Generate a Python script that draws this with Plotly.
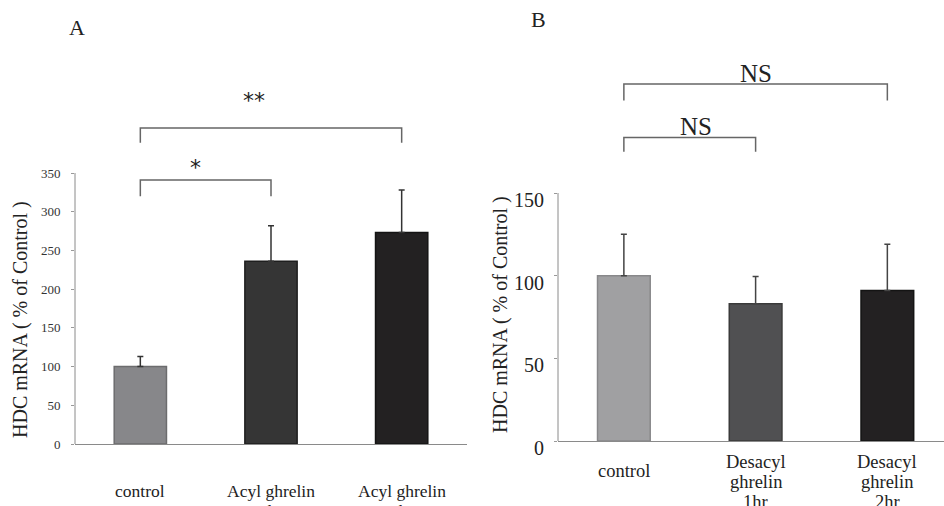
import plotly.graph_objects as go

# ---- data ----
cats_a = ["control", "Acyl ghrelin 1hr", "Acyl ghrelin 2hr"]
labels_a = [["control"], ["Acyl ghrelin", "1hr"], ["Acyl ghrelin", "2hr"]]
vals_a = [100, 236, 273]
err_a = [13, 46, 55]
colors_a = ["#87878a", "#353535", "#232122"]
lines_a = ["#6c6c6e", "#1e1e1e", "#141414"]
ticks_a = [0, 50, 100, 150, 200, 250, 300, 350]

cats_b = ["control", "Desacyl ghrelin 1hr", "Desacyl ghrelin 2hr"]
labels_b = [["control"], ["Desacyl", "ghrelin", "1hr"], ["Desacyl", "ghrelin", "2hr"]]
vals_b = [100, 83, 91]
err_b = [25, 16.5, 28]
colors_b = ["#a0a0a2", "#505052", "#232122"]
lines_b = ["#88888a", "#3a3a3a", "#141414"]
ticks_b = [0, 50, 100, 150]

FONT = "Liberation Serif, DejaVu Serif, serif"
W, H = 944, 506

def px(pix):
    return pix / W

def py(pix):
    return 1 - pix / H

fig = go.Figure()
fig.add_trace(go.Bar(
    x=cats_a, y=vals_a, xaxis="x", yaxis="y",
    marker=dict(color=colors_a, line=dict(color=lines_a, width=1.5)),
    error_y=dict(type="data", array=err_a, arrayminus=[0]*3, symmetric=False,
                 color="#333333", thickness=1.5, width=3),
    showlegend=False, hoverinfo="skip"))
fig.add_trace(go.Bar(
    x=cats_b, y=vals_b, xaxis="x2", yaxis="y2",
    marker=dict(color=colors_b, line=dict(color=lines_b, width=1.5)),
    error_y=dict(type="data", array=err_b, arrayminus=[0]*3, symmetric=False,
                 color="#444444", thickness=1.5, width=3),
    showlegend=False, hoverinfo="skip"))

RA = (444 - 84) / ((444 - 173) / 350)
RB = (441 - 60) / ((441 - 193) / 150)
fig.update_layout(
    template="none", autosize=False,
    width=W, height=H, margin=dict(l=0, r=0, t=0, b=0, pad=0),
    paper_bgcolor="white", plot_bgcolor="white",
    font=dict(family=FONT, color="#222"),
    bargap=0.6,
    xaxis=dict(domain=[px(75), px(467)], range=[-0.5, 2.5], showticklabels=False,
               showline=True, linecolor="#8a8a8a", linewidth=1, ticks="",
               showgrid=False, zeroline=False, automargin=False),
    yaxis=dict(domain=[py(444), py(84)], range=[0, RA], tickvals=ticks_a,
               ticks="outside", ticklen=3, tickcolor="#999", showline=False,
               showgrid=False, zeroline=False, automargin=False,
               tickfont=dict(size=13, color="#333"), ticklabelstandoff=8),
    xaxis2=dict(domain=[px(558), 1.0], range=[-0.5, 2.43], showticklabels=False,
                showline=True, linecolor="#8a8a8a", linewidth=1, ticks="",
                showgrid=False, zeroline=False, anchor="y2", automargin=False),
    yaxis2=dict(domain=[py(441), py(60)], range=[0, RB], tickvals=ticks_b,
                ticks="outside", ticklen=3, tickcolor="#999", showline=False,
                showgrid=False, zeroline=False, anchor="x2", automargin=False,
                tickfont=dict(size=20, color="#222"), ticklabelstandoff=6,
                ticklabelshift=7),
)

shapes = []
shapes.append(dict(type="line", xref="x domain", yref="y", x0=0, x1=0, y0=0, y1=ticks_a[-1],
                   line=dict(color="#8a8a8a", width=1)))
shapes.append(dict(type="line", xref="x2 domain", yref="y2", x0=0, x1=0, y0=0, y1=ticks_b[-1],
                   line=dict(color="#8a8a8a", width=1)))

def bracket(xr, yr, i, j, ytop, ybot):
    return dict(type="path", xref=xr, yref=yr,
                path=f"M {i},{ybot} L {i},{ytop} L {j},{ytop} L {j},{ybot}",
                line=dict(color="#666", width=1.5))

shapes.append(bracket("x", "y", 0, 2, 408, 389))
shapes.append(bracket("x", "y", 0, 1, 341, 320))
shapes.append(bracket("x2", "y2", 0, 2, 216, 206))
shapes.append(bracket("x2", "y2", 0, 1, 183.5, 175))
fig.update_layout(shapes=shapes)

ann = []
ann.append(dict(text="**", x=0.87, y=444, xref="x", yref="y", showarrow=False,
                font=dict(size=22, family="DejaVu Sans", color="#222")))
ann.append(dict(text="*", x=0.42, y=357, xref="x", yref="y", showarrow=False,
                font=dict(size=22, family="DejaVu Sans", color="#222")))
ann.append(dict(text="NS", x=1.0, y=222, xref="x2", yref="y2", showarrow=False,
                font=dict(size=25, color="#222")))
ann.append(dict(text="NS", x=0.55, y=190, xref="x2", yref="y2", showarrow=False,
                font=dict(size=25, color="#222")))
ann.append(dict(text="A", x=px(77), y=py(27), xref="paper", yref="paper", showarrow=False,
                xanchor="center", yanchor="middle", font=dict(size=22, color="#222")))
ann.append(dict(text="B", x=px(538), y=py(20), xref="paper", yref="paper", showarrow=False,
                xanchor="center", yanchor="middle", font=dict(size=22, color="#222")))
ann.append(dict(text="HDC mRNA ( % of Control )", x=px(20), y=py(320), xref="paper", yref="paper",
                xanchor="center", yanchor="middle",
                textangle=-90, showarrow=False, font=dict(size=20, color="#222")))
ann.append(dict(text="HDC mRNA ( % of Control )", x=px(500), y=py(315), xref="paper", yref="paper",
                xanchor="center", yanchor="middle",
                textangle=-90, showarrow=False, font=dict(size=20, color="#222")))
for c, lines in zip(cats_a, labels_a):
    for n, line in enumerate(lines):
        ann.append(dict(text=line, x=c, y=py(491 + 20 * n), xref="x", yref="paper",
                        yanchor="middle", showarrow=False, font=dict(size=17.5, color="#222")))
for c, lines in zip(cats_b, labels_b):
    if len(lines) == 1:
        ann.append(dict(text=lines[0], x=c, y=py(471), xref="x2", yref="paper", yanchor="middle",
                        showarrow=False, font=dict(size=18.5, color="#222")))
    else:
        for n, line in enumerate(lines):
            ann.append(dict(text=line, x=c, y=py(462 + 20 * n), xref="x2", yref="paper",
                            yanchor="middle", showarrow=False, font=dict(size=18.5, color="#222")))
fig.update_layout(annotations=ann)

fig.write_html("out.html",
               config={"displayModeBar": False, "responsive": False},
               post_script="document.body.style.margin='0';document.body.style.overflow='hidden';")
